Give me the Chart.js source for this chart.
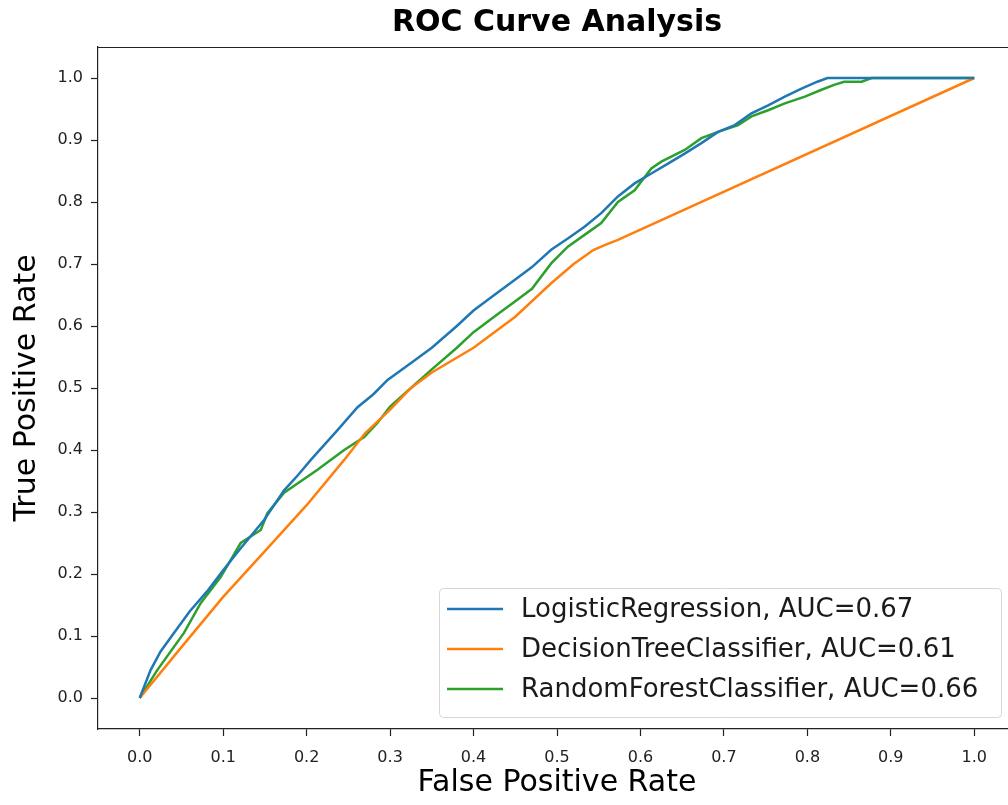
<!DOCTYPE html>
<html>
<head>
<meta charset="utf-8">
<script src="https://cdn.jsdelivr.net/npm/chart.js@4"></script>
<style>
  html, body { margin: 0; padding: 0; background: #fff; overflow: hidden; }
  #wrap { width: 1008px; height: 805px; overflow: hidden; }
</style>
</head>
<body>
<div id="wrap"><canvas id="roc" width="1016" height="805"></canvas></div>
<script>
// Tick positions
const xTicks = [0, 0.1, 0.2, 0.3, 0.4, 0.5, 0.6, 0.7, 0.8, 0.9, 1.0];
const yTicks = [0, 0.1, 0.2, 0.3, 0.4, 0.5, 0.6, 0.7, 0.8, 0.9, 1.0];

// Series labels
const modelLabels = [
    "LogisticRegression, AUC=0.67",
    "DecisionTreeClassifier, AUC=0.61",
    "RandomForestClassifier, AUC=0.66",
];
const modelColors = ["#1f77b4", "#ff7f0e", "#2ca02c"];

// LogisticRegression curve
const lrFpr = [0, 0.013, 0.025, 0.041, 0.06, 0.082, 0.10, 0.12, 0.149, 0.173, 0.19, 0.205, 0.237, 0.261, 0.28, 0.297,
    0.33, 0.35, 0.38, 0.40, 0.42, 0.45, 0.47, 0.493, 0.513, 0.533, 0.553, 0.573, 0.593, 0.613, 0.633, 0.653,
    0.673, 0.693, 0.713, 0.733, 0.753, 0.773, 0.793, 0.812, 0.824, 1.0];
const lrTpr = [0, 0.045, 0.075, 0.105, 0.14, 0.174, 0.206, 0.24, 0.287, 0.335, 0.36, 0.384, 0.432, 0.469, 0.49, 0.513,
    0.545, 0.565, 0.60, 0.625, 0.645, 0.675, 0.695, 0.723, 0.741, 0.76, 0.782, 0.809, 0.83, 0.846, 0.862, 0.878,
    0.895, 0.913, 0.924, 0.943, 0.956, 0.97, 0.983, 0.994, 1.0, 1.0];

// DecisionTreeClassifier curve
const dtFpr = [0, 0.05, 0.10, 0.15, 0.20, 0.245, 0.27, 0.30, 0.325, 0.35, 0.40, 0.45, 0.493, 0.52, 0.544, 0.56, 0.573, 1.0];
const dtTpr = [0, 0.082, 0.163, 0.237, 0.311, 0.384, 0.427, 0.465, 0.50, 0.525, 0.565, 0.615, 0.669, 0.70, 0.723, 0.732, 0.739, 1.0];

// RandomForestClassifier curve
const rfFpr = [0, 0.021, 0.053, 0.073, 0.097, 0.121, 0.145, 0.153, 0.173, 0.213, 0.245, 0.269, 0.285, 0.30, 0.325,
    0.35, 0.38, 0.40, 0.43, 0.45, 0.47, 0.493, 0.513, 0.533, 0.553, 0.573, 0.593, 0.613, 0.625, 0.653, 0.673,
    0.693, 0.717, 0.733, 0.753, 0.773, 0.797, 0.817, 0.832, 0.844, 0.865, 0.877, 1.0];
const rfTpr = [0, 0.045, 0.105, 0.153, 0.195, 0.25, 0.271, 0.298, 0.331, 0.368, 0.40, 0.421, 0.444, 0.47, 0.50,
    0.53, 0.565, 0.59, 0.62, 0.64, 0.66, 0.701, 0.728, 0.747, 0.766, 0.80, 0.819, 0.854, 0.865, 0.884, 0.903,
    0.913, 0.924, 0.938, 0.948, 0.959, 0.97, 0.981, 0.989, 0.994, 0.994, 1.0, 1.0];

const pts = (xs, ys) => xs.map((x, i) => ({ x, y: ys[i] }));

const FONT = "'DejaVu Sans', sans-serif";
const AXIS = "#222";

// top spine + legend box inside the plot
const frameAndLegend = {
    id: "frameAndLegend",
    afterDatasetsDraw(chart) {
        const { ctx, chartArea } = chart;
        ctx.save();
        ctx.strokeStyle = AXIS;
        ctx.lineWidth = 1.2;
        ctx.beginPath();
        ctx.moveTo(chartArea.left, chartArea.top + 0.5);
        ctx.lineTo(chartArea.right, chartArea.top + 0.5);
        ctx.stroke();

        // legend
        const bx = 439, by = 588, bw = 562, bh = 129, r = 4;
        ctx.fillStyle = "rgba(255,255,255,0.8)";
        ctx.strokeStyle = "#d6d6d6";
        ctx.lineWidth = 1;
        ctx.beginPath();
        ctx.roundRect(bx + 0.5, by + 0.5, bw, bh, r);
        ctx.fill();
        ctx.stroke();

        ctx.font = "26px " + FONT;
        ctx.textBaseline = "middle";
        ctx.textAlign = "left";
        chart.data.datasets.forEach((ds, i) => {
            const y = 609 + i * 40;
            ctx.strokeStyle = ds.borderColor;
            ctx.lineWidth = 2.5;
            ctx.beginPath();
            ctx.moveTo(447, y);
            ctx.lineTo(503, y);
            ctx.stroke();
            ctx.fillStyle = "#1a1a1a";
            ctx.fillText(ds.label, 521, y + 1);
        });
        ctx.restore();
    },
};

new Chart(document.getElementById("roc"), {
    type: "scatter",
    data: {
        datasets: [
            { label: modelLabels[0], data: pts(lrFpr, lrTpr), borderColor: modelColors[0] },
            { label: modelLabels[1], data: pts(dtFpr, dtTpr), borderColor: modelColors[1] },
            { label: modelLabels[2], data: pts(rfFpr, rfTpr), borderColor: modelColors[2] },
        ].map((d) => ({ ...d, showLine: true, borderWidth: 2.5, pointRadius: 0, tension: 0, fill: false })),
    },
    options: {
        responsive: false,
        animation: false,
        layout: { padding: 0 },
        plugins: {
            legend: { display: false },
            tooltip: { enabled: false },
            title: {
                display: true,
                text: "ROC Curve Analysis",
                fullSize: false,
                color: "#000",
                font: { family: FONT, size: 30, weight: "bold", lineHeight: 1.2 },
                padding: { top: 5, bottom: 6 },
            },
        },
        scales: {
            x: {
                type: "linear",
                min: -0.05,
                max: 1.05,
                afterBuildTicks: (axis) => { axis.ticks = xTicks.map((v) => ({ value: v })); },
                afterFit: (axis) => { axis.height = 76; },
                grid: { drawOnChartArea: false, drawTicks: true, tickLength: 7, tickWidth: 1.2, tickColor: AXIS },
                border: { display: true, color: AXIS, width: 1.2 },
                ticks: {
                    color: "#222",
                    padding: 12,
                    maxRotation: 0,
                    autoSkip: false,
                    font: { family: FONT, size: 16 },
                    callback: (v) => v.toFixed(1),
                },
                title: {
                    display: true,
                    text: "False Positive Rate",
                    color: "#000",
                    font: { family: FONT, size: 30, lineHeight: 1.2 },
                    padding: { top: 0, bottom: 4 },
                },
            },
            y: {
                type: "linear",
                min: -0.05,
                max: 1.05,
                afterBuildTicks: (axis) => { axis.ticks = yTicks.map((v) => ({ value: v })); },
                afterFit: (axis) => { axis.width = 98; },
                grid: { drawOnChartArea: false, drawTicks: true, tickLength: 7, tickWidth: 1.2, tickColor: AXIS },
                border: { display: true, color: AXIS, width: 1.2 },
                ticks: {
                    color: "#222",
                    padding: 8,
                    autoSkip: false,
                    font: { family: FONT, size: 16 },
                    callback: (v) => v.toFixed(1),
                },
                title: {
                    display: true,
                    text: "True Positive Rate",
                    color: "#000",
                    font: { family: FONT, size: 30, lineHeight: 1.2 },
                    padding: { top: 9, bottom: 0 },
                },
            },
        },
    },
    plugins: [frameAndLegend],
});
</script>
</body>
</html>
